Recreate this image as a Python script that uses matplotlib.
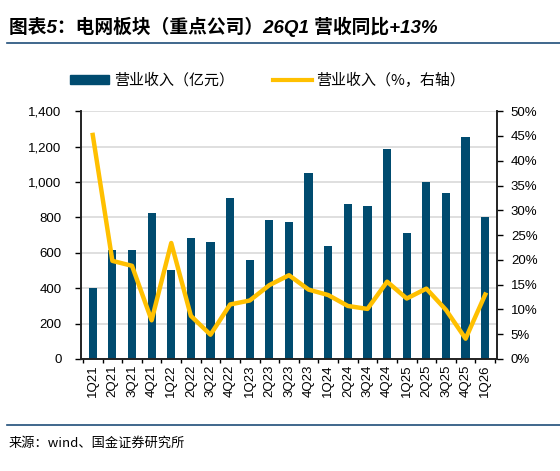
import numpy as np
import matplotlib
matplotlib.use("Agg")
import matplotlib.pyplot as plt
from matplotlib.ticker import FuncFormatter, MultipleLocator, FixedLocator
from matplotlib.lines import Line2D

plt.rcParams['font.family'] = ['Liberation Sans', 'Noto Sans CJK SC', 'DejaVu Sans']

quarters = ['1Q21', '2Q21', '3Q21', '4Q21', '1Q22', '2Q22', '3Q22', '4Q22',
            '1Q23', '2Q23', '3Q23', '4Q23', '1Q24', '2Q24', '3Q24', '4Q24',
            '1Q25', '2Q25', '3Q25', '4Q25', '1Q26']
revenue = [400, 615, 618, 823, 502, 685, 663, 911,
           559, 787, 776, 1050, 637, 877, 862, 1187,
           711, 998, 940, 1253, 803]
growth = [45.2, 19.8, 18.8, 7.8, 23.4, 8.7, 4.9, 11.0,
          11.8, 14.9, 16.9, 14.0, 12.9, 10.7, 10.1, 15.6,
          12.2, 14.2, 9.9, 4.1, 13.0]

bar_color = '#004b6f'
line_color = '#ffc000'
navy = '#1f4e79'

fig = plt.figure(figsize=(5.6, 4.71), dpi=100)
ax = fig.add_axes([0.1446, 0.2378, 0.7429, 0.5262])
ax2 = ax.twinx()

x = np.arange(len(quarters))
ax.bar(x, revenue, width=0.42, color=bar_color, zorder=2)
ax2.plot(x, growth, color=line_color, lw=3.2, solid_joinstyle='round', zorder=3)

ax.set_xlim(-0.6, len(quarters) - 0.4)
ax.set_ylim(0, 1400)
ax2.set_ylim(0, 50)
ax.yaxis.set_major_locator(MultipleLocator(200))
ax2.yaxis.set_major_locator(MultipleLocator(5))
ax.yaxis.set_major_formatter(FuncFormatter(lambda v, p: f'{int(v):,}'))
ax2.yaxis.set_major_formatter(FuncFormatter(lambda v, p: f'{int(v)}%'))
ax.grid(axis='y', color='#d9d9d9', lw=1.2, zorder=0)
ax.set_axisbelow(True)

ax.set_xticks(x)
ax.set_xticklabels(quarters, rotation=90, fontsize=9.5)
ax.xaxis.set_minor_locator(FixedLocator(np.arange(-0.5, len(quarters), 1.0)))
ax.tick_params(axis='x', which='major', length=0, pad=4)
ax.tick_params(axis='x', which='minor', length=3, direction='out', width=1)
ax.tick_params(axis='y', length=4, width=1, labelsize=9.5, pad=10)
ax2.tick_params(axis='y', length=4, width=1, labelsize=9.5, pad=6)

for a in (ax, ax2):
    a.spines['top'].set_visible(False)
    for s in ('left', 'right', 'bottom'):
        a.spines[s].set_linewidth(1.2)
        a.spines[s].set_color('#222222')

# title and rules
fig.text(0.016, 0.943, '图表5：电网板块（重点公司）26Q1 营收同比+13%',
         fontsize=13.5, fontweight='bold', style='italic',
         family=['Liberation Sans', 'Noto Sans CJK SC'], va='center')
fig.add_artist(Line2D([0.012, 1.0], [0.908, 0.908], color=navy, lw=1.2))
fig.add_artist(Line2D([0.012, 1.0], [0.098, 0.098], color=navy, lw=1.2))
fig.text(0.016, 0.058, '来源：wind、国金证券研究所', fontsize=9.5,
         family=['Noto Sans CJK SC', 'DejaVu Sans'], va='center')

handles = [plt.Rectangle((0, 0), 1, 1, color=bar_color),
           Line2D([0], [0], color=line_color, lw=3)]
fig.legend(handles, ['营业收入（亿元）', '营业收入（%，右轴）'],
           loc='center', bbox_to_anchor=(0.478, 0.830), ncol=2, frameon=False,
           handlelength=2.6, handleheight=0.6, handletextpad=0.3,
           columnspacing=2.6,
           prop={'family': ['Noto Sans CJK SC', 'DejaVu Sans'], 'size': 10.8})

fig.savefig('out.png', dpi=100)
